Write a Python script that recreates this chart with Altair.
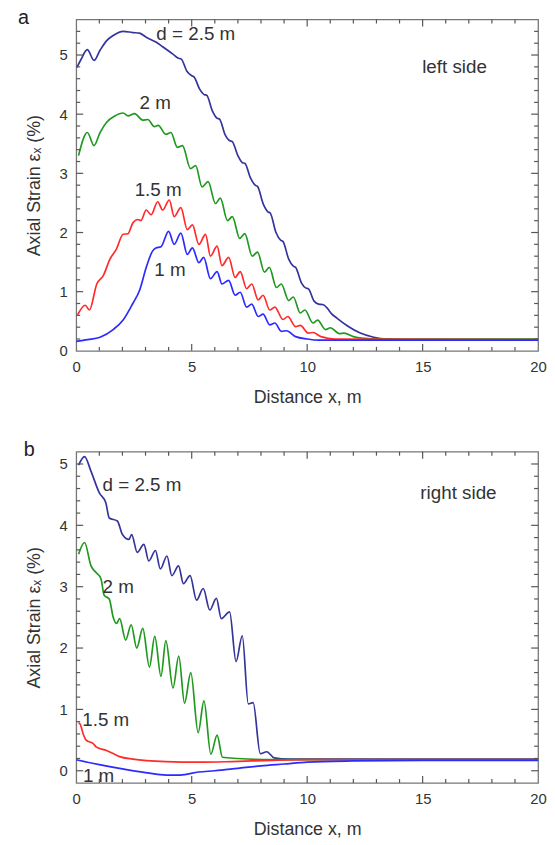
import altair as alt
import pandas as pd

# ---------------- data ----------------
series_names = ["2.5", "2", "1.5", "1"]
series_colors = ["#34349c", "#1f9a1f", "#ff2a2a", "#2b2bff"]

# panel a (left side)
a25_x = [0.03, 0.2, 0.48, 0.77, 1.03, 1.31, 1.6, 2.03, 2.45, 2.74, 3.03, 3.45, 3.74, 4.17, 4.4, 4.55,
         4.8, 5.0, 5.1, 5.35, 5.55, 5.65, 5.9, 6.1, 6.2, 6.45, 6.65, 6.75, 7.0, 7.2, 7.3, 7.55, 7.75,
         7.85, 8.1, 8.3, 8.4, 8.65, 8.85, 8.95, 9.2, 9.4, 9.5, 9.75, 9.95, 10.05, 10.3, 10.5, 10.7,
         10.85, 11.05, 11.3, 11.75, 12.3, 12.88, 13.45, 15.0, 20.0]
a25_y = [4.79, 4.92, 5.09, 4.91, 5.08, 5.24, 5.33, 5.4, 5.38, 5.37, 5.3, 5.22, 5.14, 5.02, 4.95, 4.93,
         4.72, 4.65, 4.63, 4.42, 4.33, 4.32, 4.05, 3.93, 3.92, 3.65, 3.55, 3.54, 3.3, 3.18, 3.17, 2.92,
         2.8, 2.78, 2.48, 2.35, 2.33, 2.0, 1.87, 1.85, 1.55, 1.43, 1.41, 1.15, 1.06, 1.05, 0.84, 0.79,
         0.78, 0.73, 0.63, 0.55, 0.42, 0.3, 0.23, 0.2, 0.19, 0.19]
a2_x = [0.1, 0.48, 0.77, 1.03, 1.31, 1.67, 2.03, 2.24, 2.53, 2.88, 3.1, 3.38, 3.55, 3.88, 4.1, 4.38,
        4.6, 4.95, 5.17, 5.45, 5.71, 6.03, 6.24, 6.55, 6.76, 7.08, 7.3, 7.62, 7.85, 8.15, 8.36, 8.67,
        8.88, 9.2, 9.4, 9.7, 9.9, 10.25, 10.45, 10.8, 11.0, 11.4, 11.6, 12.0, 12.5, 13.0, 20.0]
a2_y = [3.3, 3.69, 3.47, 3.69, 3.86, 3.97, 4.02, 3.97, 4.01, 3.9, 3.91, 3.79, 3.81, 3.66, 3.69, 3.44,
        3.47, 3.08, 3.13, 2.77, 2.86, 2.49, 2.58, 2.2, 2.27, 1.9, 1.98, 1.6, 1.67, 1.33, 1.41, 1.07,
        1.13, 0.85, 0.91, 0.64, 0.69, 0.47, 0.52, 0.36, 0.39, 0.29, 0.3, 0.24, 0.21, 0.2, 0.2]
a15_x = [0.06, 0.39, 0.57, 0.89, 1.17, 1.46, 1.74, 2.03, 2.24, 2.45, 2.67, 2.8, 3.03, 3.24, 3.53,
         3.74, 4.03, 4.24, 4.53, 4.81, 5.03, 5.31, 5.6, 5.81, 6.1, 6.31, 6.6, 6.88, 7.1, 7.38, 7.6,
         7.88, 8.09, 8.38, 8.6, 8.95, 9.16, 9.5, 9.7, 10.05, 10.25, 10.6, 11.2, 20.0]
a15_y = [0.61, 0.77, 0.69, 1.13, 1.27, 1.55, 1.72, 1.97, 1.98, 2.16, 2.22, 2.2, 2.38, 2.3, 2.52,
         2.38, 2.55, 2.27, 2.42, 2.05, 2.13, 1.8, 1.97, 1.6, 1.77, 1.44, 1.58, 1.24, 1.34, 1.05, 1.13,
         0.86, 0.94, 0.69, 0.74, 0.53, 0.58, 0.41, 0.43, 0.3, 0.31, 0.24, 0.2, 0.19]
a1_x = [0.0, 0.5, 1.03, 1.6, 2.03, 2.45, 2.74, 3.03, 3.31, 3.45, 3.67, 4.0, 4.24, 4.53, 4.81, 5.03,
        5.31, 5.52, 5.81, 6.1, 6.31, 6.6, 6.88, 7.1, 7.38, 7.6, 7.88, 8.09, 8.38, 8.6, 8.88, 9.1,
        9.5, 10.0, 10.5, 20.0]
a1_y = [0.16, 0.19, 0.23, 0.36, 0.52, 0.8, 1.02, 1.41, 1.69, 1.74, 1.76, 2.02, 1.8, 1.99, 1.63, 1.74,
        1.49, 1.58, 1.22, 1.34, 1.13, 1.19, 0.94, 0.99, 0.74, 0.79, 0.58, 0.62, 0.44, 0.47, 0.33, 0.34,
        0.24, 0.2, 0.18, 0.18]

# panel b (right side)
b25_x = [0.1, 0.36, 0.64, 1.0, 1.28, 1.43, 1.78, 2.0, 2.28, 2.4, 2.64, 2.93, 3.14, 3.43, 3.64, 3.93,
         4.14, 4.43, 4.64, 4.93, 5.21, 5.5, 5.78, 6.07, 6.28, 6.64, 6.92, 7.19, 7.45, 7.66, 7.97,
         8.25, 8.57, 9.2, 20.0]
b25_y = [4.98, 5.12, 4.88, 4.53, 4.37, 4.12, 4.07, 3.85, 3.77, 3.85, 3.56, 3.69, 3.42, 3.59, 3.29,
         3.5, 3.18, 3.34, 3.05, 3.18, 2.78, 2.97, 2.62, 2.81, 2.48, 2.59, 1.78, 2.2, 1.09, 1.11, 0.28,
         0.31, 0.21, 0.19, 0.19]
b2_x = [0.1, 0.36, 0.64, 0.86, 1.07, 1.21, 1.43, 1.6, 1.74, 1.88, 2.14, 2.38, 2.62, 2.88, 3.17, 3.4,
        3.67, 3.88, 4.19, 4.44, 4.69, 4.96, 5.28, 5.53, 5.83, 6.1, 6.33, 7.0, 8.5, 10.0, 20.0]
b2_y = [3.53, 3.72, 3.34, 3.23, 3.13, 2.86, 2.8, 2.5, 2.4, 2.48, 2.13, 2.38, 2.0, 2.32, 1.69, 2.19,
        1.54, 2.12, 1.35, 1.87, 1.1, 1.6, 0.62, 1.14, 0.27, 0.58, 0.22, 0.2, 0.18, 0.18, 0.18]
b15_x = [0.1, 0.17, 0.3, 0.43, 0.74, 0.86, 1.31, 1.6, 1.88, 2.45, 3.88, 5.31, 6.74, 8.5, 10.0, 20.0]
b15_y = [0.78, 0.76, 0.6, 0.5, 0.44, 0.39, 0.33, 0.28, 0.23, 0.19, 0.15, 0.14, 0.15, 0.17, 0.18, 0.18]
b1_x = [0.0, 1.0, 2.0, 3.0, 3.9, 4.5, 5.3, 6.0, 7.0, 8.0, 9.0, 10.0, 12.0, 15.0, 20.0]
b1_y = [0.18, 0.1, 0.03, -0.03, -0.07, -0.07, -0.02, 0.0, 0.04, 0.08, 0.11, 0.14, 0.16, 0.17, 0.17]

# annotations
a_ann_text = ["d = 2.5 m", "2 m", "1.5 m", "1 m"]
a_ann_x = [3.47, 2.74, 2.53, 3.38]
a_ann_y = [5.35, 4.19, 2.72, 1.36]
b_ann_text = ["d = 2.5 m", "2 m", "1.5 m", "1 m"]
b_ann_x = [1.14, 1.14, 0.26, 0.29]
b_ann_y = [4.66, 3.0, 0.83, -0.085]
side_text = ["left side", "right side"]
side_x = [14.98, 14.9]
side_y = [4.8, 4.52]
panel_letters = ["a", "b"]

x_domain = [0, 20]
a_y_domain = [0, 5.6]
b_y_domain = [-0.2, 5.2]
x_label_values = [0, 5, 10, 15, 20]
y_label_values = [0, 1, 2, 3, 4, 5]
x_major_ticks = [5, 10, 15]
x_minor_ticks = [v for v in range(1, 20) if v % 5 != 0]
a_y_major_ticks = [1, 2, 3, 4, 5]
a_y_minor_ticks = [round(i * 0.2, 1) for i in range(1, 28) if i % 5 != 0]
b_y_major_ticks = [0, 1, 2, 3, 4, 5]
b_y_minor_ticks = [round(-0.2 + i * 0.2, 1) for i in range(1, 27) if (i - 1) % 5 != 0]

W, H = 467, 335
FONT = "Liberation Sans"
TXT = "#333333"
FRAME = "#767676"
TICK = "#555555"
MAJOR, MINOR = 7, 4


def long_df(xs_list, ys_list):
    rows = []
    for name, xs, ys in zip(series_names, xs_list, ys_list):
        for i, (xv, yv) in enumerate(zip(xs, ys)):
            rows.append({"x": xv, "y": yv, "series": name, "i": i})
    return pd.DataFrame(rows)


def x_ticks(values, xs, size):
    d = pd.DataFrame({"v": values})
    base = alt.Chart(d).mark_rule(color=TICK, strokeWidth=1.2, opacity=1)
    bottom = base.encode(x=alt.X("v:Q", scale=xs, axis=None), y=alt.value(H), y2=alt.value(H - size))
    top = base.encode(x=alt.X("v:Q", scale=xs, axis=None), y=alt.value(0), y2=alt.value(size))
    return [bottom, top]


def y_ticks(values, ys, size):
    d = pd.DataFrame({"v": values})
    base = alt.Chart(d).mark_rule(color=TICK, strokeWidth=1.2, opacity=1)
    left = base.encode(y=alt.Y("v:Q", scale=ys, axis=None), x=alt.value(0), x2=alt.value(size))
    right = base.encode(y=alt.Y("v:Q", scale=ys, axis=None), x=alt.value(W), x2=alt.value(W - size))
    return [left, right]


def panel(df, ydom, y_major, y_minor, ann_t, ann_x, ann_y, side_t, side_xv, side_yv, letter, letter_dx,
          letter_dy):
    xs = alt.Scale(domain=x_domain, nice=False, zero=False)
    ys = alt.Scale(domain=ydom, nice=False, zero=False)
    lines = alt.Chart(df).mark_line(strokeWidth=1.7, interpolate="monotone").encode(
        x=alt.X("x:Q", scale=xs, axis=alt.Axis(orient="bottom", values=x_label_values, title="Distance x, m",
                                                 ticks=False, tickSize=0, domain=False, grid=False,
                                                 labelPadding=9, titlePadding=14, labelFlush=False)),
        y=alt.Y("y:Q", scale=ys, axis=alt.Axis(orient="left", values=y_label_values, title="Axial Strain εₓ (%)",
                                                 ticks=False, tickSize=0, domain=False, grid=False,
                                                 labelPadding=9, titlePadding=16, labelFlush=False)),
        color=alt.Color("series:N", scale=alt.Scale(domain=series_names, range=series_colors), legend=None),
        order="i:Q",
        detail="series:N",
    )
    ann_df = pd.DataFrame({"x": ann_x, "y": ann_y, "t": ann_t})
    ann = alt.Chart(ann_df).mark_text(align="left", baseline="middle", fontSize=19, color=TXT, font=FONT).encode(
        x=alt.X("x:Q", scale=xs, axis=None),
        y=alt.Y("y:Q", scale=ys, axis=None),
        text="t:N",
    )
    side_df = pd.DataFrame({"x": [side_xv], "y": [side_yv], "t": [side_t]})
    side = alt.Chart(side_df).mark_text(align="left", baseline="middle", fontSize=19, color=TXT, font=FONT).encode(
        x=alt.X("x:Q", scale=xs, axis=None),
        y=alt.Y("y:Q", scale=ys, axis=None),
        text="t:N",
    )
    let_df = pd.DataFrame({"t": [letter]})
    let = alt.Chart(let_df).mark_text(align="left", baseline="alphabetic", fontSize=20, color="#222222",
                                      font=FONT).encode(
        x=alt.value(letter_dx), y=alt.value(letter_dy), text="t:N")
    ticks = (x_ticks(x_major_ticks, xs, MAJOR) + x_ticks(x_minor_ticks, xs, MINOR)
             + y_ticks(y_major, ys, MAJOR) + y_ticks(y_minor, ys, MINOR))
    return alt.layer(lines, ann, side, let, *ticks).resolve_axis(
        x="independent", y="independent").properties(width=W, height=H)


df_a = long_df([a25_x, a2_x, a15_x, a1_x], [a25_y, a2_y, a15_y, a1_y])
df_b = long_df([b25_x, b2_x, b15_x, b1_x], [b25_y, b2_y, b15_y, b1_y])

top = panel(df_a, a_y_domain, a_y_major_ticks, a_y_minor_ticks, a_ann_text, a_ann_x, a_ann_y, side_text[0],
            side_x[0], side_y[0], panel_letters[0], -59, 5)
bottom = panel(df_b, b_y_domain, b_y_major_ticks, b_y_minor_ticks, b_ann_text, b_ann_x, b_ann_y, side_text[1],
               side_x[1], side_y[1], panel_letters[1], -53, 4)

chart = alt.vconcat(top, bottom, spacing=32).properties(
    padding={"left": 9, "top": -5, "right": 0, "bottom": 0}
).configure_view(stroke=FRAME, strokeWidth=1.3).configure_axis(
    labelFont=FONT, labelFontSize=15, labelColor=TXT, titleFont=FONT, titleFontSize=18,
    titleFontWeight="normal", titleColor=TXT
).configure_text(font=FONT)

chart.save("out.html", embed_options={"renderer": "svg", "actions": False})
